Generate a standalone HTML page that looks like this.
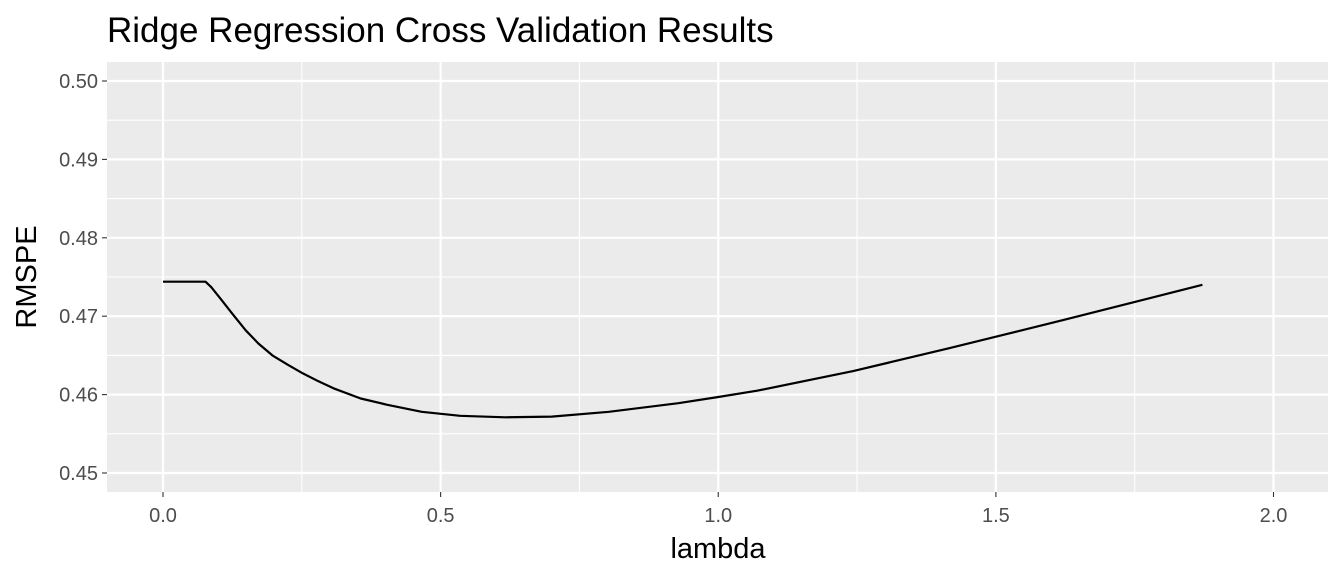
<!DOCTYPE html>
<html><head><meta charset="utf-8"><style>
body{margin:0;background:#fff;font-family:"Liberation Sans",Arial,sans-serif}
</style></head><body>
<svg id="chart" width="1344" height="576" xmlns="http://www.w3.org/2000/svg" font-family="Liberation Sans, Arial, sans-serif">
<text x="107" y="42" font-size="35" fill="#000">Ridge Regression Cross Validation Results</text>
<rect x="107" y="62" width="1221" height="430" fill="#ebebeb"/>
<g id="grid"></g>
<g id="axes"></g>
<path id="line" fill="none" stroke="#000" stroke-width="2.2" stroke-linejoin="round"/>
<text x="718" y="558" font-size="29" text-anchor="middle" fill="#000">lambda</text>
<text transform="translate(36,277) rotate(-90)" font-size="29" text-anchor="middle" fill="#000">RMSPE</text>
</svg>
<script>
const lambdaVals=[0,0.0765,0.087,0.105,0.125,0.149,0.172,0.197,0.225,0.252,0.280,0.307,0.356,0.404,0.466,0.535,0.617,0.700,0.803,0.928,1.0,1.07,1.243,1.415,1.621,1.872];
const rmspeVals=[0.4744,0.4744,0.4737,0.4721,0.4703,0.4682,0.4665,0.4650,0.4638,0.4627,0.4617,0.4608,0.4595,0.4587,0.4578,0.4573,0.4571,0.4572,0.4578,0.4589,0.4597,0.4605,0.4630,0.4659,0.4695,0.4740];
const xTicks=[0,0.5,1,1.5,2];
const xTickLabels=["0.0","0.5","1.0","1.5","2.0"];
const yTicks=[0.45,0.46,0.47,0.48,0.49,0.50];
const yTickLabels=["0.45","0.46","0.47","0.48","0.49","0.50"];
const X=v=>163+v*555.25;
const Y=v=>473-(v-0.45)*7840;
const NS="http://www.w3.org/2000/svg";
const grid=document.getElementById('grid'),axes=document.getElementById('axes');
function ln(p,x1,y1,x2,y2,c,w){const l=document.createElementNS(NS,'line');l.setAttribute('x1',x1);l.setAttribute('y1',y1);l.setAttribute('x2',x2);l.setAttribute('y2',y2);l.setAttribute('stroke',c);l.setAttribute('stroke-width',w);p.appendChild(l);return l;}
function tx(p,x,y,s,a){const t=document.createElementNS(NS,'text');t.setAttribute('x',x);t.setAttribute('y',y);t.setAttribute('font-size','20');t.setAttribute('fill','#4d4d4d');t.setAttribute('text-anchor',a);t.textContent=s;p.appendChild(t);return t;}
for(let i=0;i<xTicks.length-1;i++){const m=(xTicks[i]+xTicks[i+1])/2;const g=ln(grid,X(m),62,X(m),492,'#fff',1.1);

}
for(let i=0;i<yTicks.length-1;i++){const m=(yTicks[i]+yTicks[i+1])/2;const g=ln(grid,107,Y(m),1328,Y(m),'#fff',1.1);

}
xTicks.forEach((v,i)=>{const g=ln(grid,X(v),62,X(v),492,'#fff',2.2);


ln(axes,X(v),492,X(v),497,'#333',1.1);
const t=tx(axes,X(v),522,xTickLabels[i],'middle');

});
yTicks.forEach((v,i)=>{const g=ln(grid,107,Y(v),1328,Y(v),'#fff',2.2);


ln(axes,102,Y(v),107,Y(v),'#333',1.1);
const t=tx(axes,98,Y(v)+7,yTickLabels[i],'end');

});
document.getElementById('line').setAttribute('d',lambdaVals.map((v,i)=>(i?'L':'M')+X(v).toFixed(1)+','+Y(rmspeVals[i]).toFixed(1)).join(''));
</script>
</body></html>
